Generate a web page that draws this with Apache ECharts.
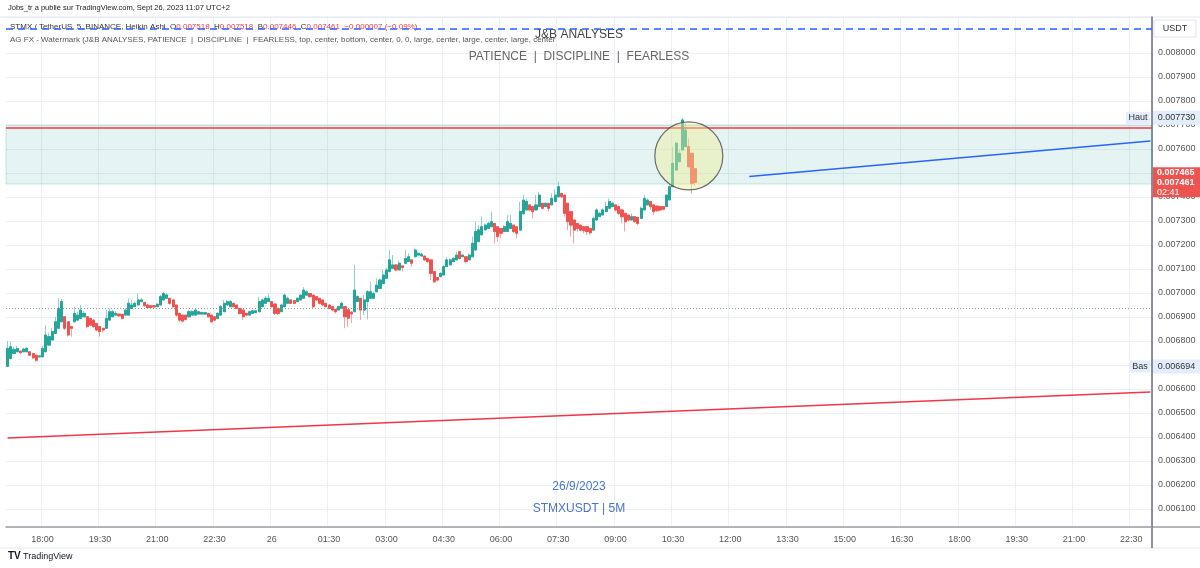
<!DOCTYPE html>
<html>
<head>
<meta charset="utf-8">
<title>STMXUSDT 5M - Heikin Ashi</title>
<script src="https://cdn.jsdelivr.net/npm/echarts@6/dist/echarts.min.js"></script>
<style>
  html, body { margin: 0; padding: 0; background: #fff; }
  #chart { width: 1200px; height: 568px; }
</style>
</head>
<body>
<div id="chart"></div>
<script>
// Heikin Ashi candles, 5 min, first candle 25/9 17:05, last 26/9 11:05
var haOpen = [
  0.006694,0.006727,0.006748,0.006755,0.006758,0.006755,0.006755,0.006755,0.006748,0.006741,
  0.006734,0.006734,0.006755,0.006783,0.006804,0.006832,0.006853,0.006880,0.006901,0.006880,
  0.006860,0.006880,0.006887,0.006894,0.006901,0.006901,0.006894,0.006887,0.006873,0.006860,
  0.006853,0.006853,0.006887,0.006901,0.006908,0.006912,0.006911,0.006908,0.006908,0.006936,
  0.006943,0.006950,0.006964,0.006961,0.006950,0.006947,0.006947,0.006943,0.006950,0.006971,
  0.006978,0.006978,0.006971,0.006950,0.006915,0.006908,0.006908,0.006901,0.006908,0.006908,
  0.006912,0.006912,0.006912,0.006915,0.006908,0.006901,0.006894,0.006908,0.006922,0.006950,
  0.006943,0.006957,0.006950,0.006936,0.006929,0.006915,0.006908,0.006915,0.006918,0.006922,
  0.006943,0.006957,0.006964,0.006964,0.006954,0.006936,0.006922,0.006943,0.006957,0.006971,
  0.006968,0.006964,0.006971,0.006978,0.006991,0.006998,0.006991,0.006985,0.006978,0.006971,
  0.006957,0.006950,0.006943,0.006932,0.006929,0.006936,0.006943,0.006930,0.006920,0.006922,
  0.006964,0.006978,0.006929,0.006964,0.006978,0.006978,0.007005,0.007019,0.007040,0.007061,
  0.007089,0.007103,0.007117,0.007096,0.007113,0.007124,0.007131,0.007138,0.007151,0.007158,
  0.007154,0.007154,0.007144,0.007138,0.007089,0.007065,0.007068,0.007075,0.007110,0.007117,
  0.007131,0.007138,0.007172,0.007151,0.007151,0.007138,0.007151,0.007179,0.007214,0.007242,
  0.007263,0.007269,0.007276,0.007290,0.007276,0.007269,0.007256,0.007256,0.007269,0.007283,
  0.007276,0.007262,0.007330,0.007346,0.007367,0.007360,0.007346,0.007360,0.007374,0.007360,
  0.007374,0.007367,0.007381,0.007401,0.007415,0.007408,0.007374,0.007339,0.007304,0.007290,
  0.007283,0.007276,0.007276,0.007269,0.007262,0.007304,0.007318,0.007325,0.007339,0.007353,
  0.007360,0.007367,0.007360,0.007346,0.007332,0.007325,0.007304,0.007318,0.007315,0.007311,
  0.007346,0.007367,0.007381,0.007367,0.007362,0.007360,0.007360,0.007360,0.007388,0.007443,
  0.007512,0.007547,0.007596,0.007610,0.007610,0.007582,0.007518
];
var haClose = [
  0.006769,0.006776,0.006765,0.006769,0.006751,0.006766,0.006769,0.006741,0.006730,0.006720,
  0.006738,0.006769,0.006825,0.006818,0.006839,0.006880,0.006936,0.006964,0.006853,0.006825,
  0.006853,0.006915,0.006908,0.006929,0.006915,0.006860,0.006866,0.006860,0.006846,0.006839,
  0.006846,0.006894,0.006922,0.006922,0.006915,0.006905,0.006894,0.006929,0.006957,0.006950,
  0.006957,0.006971,0.006971,0.006947,0.006939,0.006939,0.006942,0.006953,0.006985,0.006998,
  0.006992,0.006957,0.006943,0.006908,0.006887,0.006883,0.006890,0.006922,0.006922,0.006929,
  0.006922,0.006919,0.006918,0.006901,0.006880,0.006887,0.006915,0.006943,0.006957,0.006964,
  0.006964,0.006943,0.006936,0.006915,0.006901,0.006908,0.006922,0.006926,0.006926,0.006964,
  0.006971,0.006978,0.006978,0.006943,0.006915,0.006915,0.006950,0.006991,0.006978,0.006957,
  0.006957,0.006978,0.006991,0.007012,0.007005,0.006985,0.006943,0.006971,0.006957,0.006950,
  0.006943,0.006936,0.006929,0.006922,0.006943,0.006957,0.006901,0.006895,0.006913,0.007012,
  0.006985,0.006929,0.006971,0.007005,0.007005,0.006998,0.007033,0.007054,0.007075,0.007096,
  0.007138,0.007117,0.007096,0.007124,0.007106,0.007144,0.007151,0.007124,0.007179,0.007165,
  0.007162,0.007138,0.007131,0.007082,0.007047,0.007054,0.007082,0.007110,0.007138,0.007138,
  0.007144,0.007158,0.007144,0.007158,0.007131,0.007158,0.007207,0.007256,0.007263,0.007276,
  0.007283,0.007290,0.007297,0.007256,0.007235,0.007249,0.007276,0.007297,0.007290,0.007256,
  0.007249,0.007340,0.007387,0.007381,0.007346,0.007339,0.007367,0.007408,0.007353,0.007374,
  0.007353,0.007394,0.007408,0.007443,0.007401,0.007332,0.007297,0.007283,0.007262,0.007269,
  0.007262,0.007260,0.007256,0.007251,0.007311,0.007346,0.007332,0.007346,0.007360,0.007381,
  0.007374,0.007346,0.007332,0.007318,0.007297,0.007304,0.007318,0.007297,0.007290,0.007353,
  0.007394,0.007387,0.007360,0.007339,0.007343,0.007346,0.007349,0.007408,0.007443,0.007540,
  0.007624,0.007582,0.007721,0.007679,0.007526,0.007457,0.007461
];
var haLow = [
  0.006694,0.006724,0.006748,0.006755,0.006747,0.006755,0.006755,0.006738,0.006725,0.006712,
  0.006730,0.006734,0.006755,0.006783,0.006804,0.006832,0.006853,0.006880,0.006846,0.006818,
  0.006818,0.006880,0.006887,0.006894,0.006901,0.006853,0.006862,0.006855,0.006840,0.006818,
  0.006835,0.006853,0.006887,0.006901,0.006908,0.006900,0.006890,0.006908,0.006908,0.006936,
  0.006943,0.006950,0.006964,0.006944,0.006936,0.006936,0.006938,0.006943,0.006950,0.006971,
  0.006978,0.006952,0.006938,0.006901,0.006880,0.006876,0.006885,0.006901,0.006908,0.006908,
  0.006912,0.006912,0.006912,0.006898,0.006876,0.006883,0.006894,0.006908,0.006922,0.006950,
  0.006943,0.006940,0.006932,0.006910,0.006887,0.006903,0.006908,0.006915,0.006918,0.006922,
  0.006943,0.006957,0.006964,0.006940,0.006908,0.006908,0.006922,0.006943,0.006957,0.006954,
  0.006954,0.006964,0.006971,0.006978,0.006991,0.006980,0.006936,0.006966,0.006952,0.006945,
  0.006938,0.006932,0.006924,0.006915,0.006929,0.006936,0.006853,0.006858,0.006874,0.006922,
  0.006964,0.006888,0.006908,0.006890,0.006978,0.006978,0.007005,0.007019,0.007040,0.007061,
  0.007089,0.007103,0.007090,0.007096,0.007090,0.007124,0.007131,0.007110,0.007151,0.007158,
  0.007154,0.007134,0.007126,0.007054,0.007040,0.007047,0.007068,0.007075,0.007110,0.007117,
  0.007131,0.007138,0.007140,0.007151,0.007124,0.007138,0.007151,0.007179,0.007214,0.007242,
  0.007263,0.007269,0.007276,0.007207,0.007214,0.007228,0.007256,0.007256,0.007269,0.007250,
  0.007228,0.007262,0.007330,0.007346,0.007340,0.007311,0.007346,0.007360,0.007348,0.007360,
  0.007339,0.007367,0.007381,0.007401,0.007396,0.007318,0.007262,0.007235,0.007207,0.007256,
  0.007256,0.007248,0.007242,0.007242,0.007262,0.007304,0.007318,0.007325,0.007339,0.007353,
  0.007360,0.007340,0.007325,0.007290,0.007256,0.007298,0.007304,0.007292,0.007283,0.007311,
  0.007346,0.007367,0.007346,0.007325,0.007338,0.007340,0.007344,0.007360,0.007388,0.007443,
  0.007512,0.007547,0.007596,0.007610,0.007520,0.007415,0.007446
];
var haHigh = [
  0.006800,0.006797,0.006776,0.006780,0.006758,0.006772,0.006776,0.006755,0.006748,0.006741,
  0.006742,0.006780,0.006866,0.006835,0.006853,0.006901,0.006978,0.006975,0.006901,0.006880,
  0.006862,0.006943,0.006922,0.006950,0.006925,0.006901,0.006894,0.006887,0.006873,0.006860,
  0.006853,0.006929,0.006936,0.006930,0.006925,0.006914,0.006911,0.006936,0.006978,0.006971,
  0.006964,0.006998,0.006980,0.006961,0.006950,0.006947,0.006947,0.006958,0.006992,0.007005,
  0.007000,0.006978,0.006971,0.006950,0.006915,0.006908,0.006908,0.006929,0.006929,0.006936,
  0.006926,0.006922,0.006920,0.006915,0.006908,0.006901,0.006920,0.006950,0.006971,0.006971,
  0.006970,0.006957,0.006950,0.006936,0.006929,0.006915,0.006926,0.006930,0.006929,0.006985,
  0.006978,0.006987,0.006998,0.006964,0.006954,0.006936,0.006957,0.006998,0.006985,0.006971,
  0.006968,0.006982,0.006995,0.007024,0.007012,0.006998,0.006991,0.006985,0.006978,0.006971,
  0.006957,0.006950,0.006943,0.006932,0.006946,0.006964,0.006943,0.006930,0.006925,0.007117,
  0.006990,0.006978,0.006992,0.007012,0.007047,0.007005,0.007061,0.007061,0.007096,0.007105,
  0.007179,0.007158,0.007117,0.007135,0.007113,0.007179,0.007165,0.007138,0.007186,0.007172,
  0.007168,0.007154,0.007144,0.007138,0.007089,0.007065,0.007086,0.007115,0.007151,0.007144,
  0.007151,0.007172,0.007172,0.007162,0.007151,0.007165,0.007235,0.007297,0.007283,0.007318,
  0.007290,0.007297,0.007339,0.007290,0.007276,0.007269,0.007283,0.007325,0.007325,0.007283,
  0.007276,0.007380,0.007408,0.007394,0.007367,0.007360,0.007408,0.007422,0.007374,0.007378,
  0.007374,0.007415,0.007432,0.007464,0.007415,0.007408,0.007374,0.007339,0.007304,0.007290,
  0.007283,0.007276,0.007276,0.007269,0.007318,0.007353,0.007339,0.007353,0.007381,0.007394,
  0.007381,0.007367,0.007360,0.007346,0.007332,0.007325,0.007332,0.007318,0.007315,0.007360,
  0.007408,0.007394,0.007381,0.007367,0.007362,0.007360,0.007360,0.007408,0.007450,0.007610,
  0.007630,0.007600,0.007730,0.007707,0.007645,0.007582,0.007518
];

// drawings: [slot index, price]
var blueTrend = [[233, 0.007485], [359, 0.007633]];
var redTrend = [[0, 0.006396], [359, 0.006588]];
var highlight = [[214, 0.007571]];
var resistance = 0.00769;
var zoneTop = 0.0077;
var zoneBottom = 0.007454;
var prevClose = 0.006938;
var dashedLevel = 0.0081;
var dayHigh = 0.00773;
var dayLow = 0.006694;
var lastPrice = 0.007461;

// time slots of 5 minutes, 25/9 17:05 -> 26/9 23:00
var startMinute = 17 * 60 + 5;
var slotCount = 360;

function pad(n) { return (n < 10 ? '0' : '') + n; }

var slots = [];
for (var k = 0; k < slotCount; k++) {
  var m = startMinute + k * 5;
  var mm = m % 1440;
  slots.push((m >= 1440 ? '26' : '25') + ' ' + pad(Math.floor(mm / 60)) + ':' + pad(mm % 60));
}

function onTick(index) {
  var mm = (startMinute + index * 5) % 1440;
  return mm % 90 === 0;
}

var candles = haOpen.map(function (o, i) {
  return [o, haClose[i], haLow[i], haHigh[i]];
});
var bodies = haOpen.map(function (o, i) {
  var c = haClose[i];
  return [o, c, Math.min(o, c), Math.max(o, c)];
});

var font = 'Liberation Sans, Arial, sans-serif';
var chart = echarts.init(document.getElementById('chart'));

chart.setOption({
  backgroundColor: '#ffffff',
  animation: false,
  textStyle: { fontFamily: font },
  grid: { left: 6, right: 48, top: 17, bottom: 41, outerBoundsMode: 'none' },
  xAxis: {
    type: 'category',
    data: slots,
    boundaryGap: true,
    axisLine: { lineStyle: { color: '#9a9ca3', width: 1.5 } },
    axisTick: { show: false },
    axisLabel: {
      color: '#555',
      fontSize: 9,
      margin: 8,
      interval: onTick,
      formatter: function (v) {
        var t = v.split(' ')[1];
        return t === '00:00' ? '26' : t;
      }
    },
    splitLine: { show: true, interval: onTick, lineStyle: { color: '#eaf0f5', width: 1 } }
  },
  yAxis: {
    type: 'value',
    position: 'right',
    scale: true,
    min: 0.006025,
    max: 0.00815,
    splitNumber: 21,
    axisLine: { show: true, lineStyle: { color: '#6a6d78', width: 1.5 } },
    axisTick: { show: false },
    axisLabel: {
      color: '#555',
      fontSize: 9,
      margin: 6,
      showMinLabel: false,
      showMaxLabel: false,
      formatter: function (v) { return v.toFixed(6); }
    },
    splitLine: { lineStyle: { color: '#eaf0f5', width: 1 } }
  },
  series: [
    {
      name: 'wicks',
      type: 'candlestick',
      data: candles,
      barWidth: 2.6,
      z: 3,
      itemStyle: {
        color: '#8fd1c9', color0: '#f6a4a3',
        borderColor: '#8fd1c9', borderColor0: '#f6a4a3', borderWidth: 1
      },
      markArea: {
        silent: true,
        itemStyle: { color: 'rgba(38,166,154,0.12)', borderColor: 'rgba(38,166,154,0.25)', borderWidth: 1 },
        data: [[{ yAxis: zoneBottom }, { yAxis: zoneTop }]]
      }
    },
    {
      name: 'bodies',
      type: 'candlestick',
      data: bodies,
      barWidth: 2.6,
      z: 4,
      itemStyle: {
        color: '#26a69a', color0: '#ef5350',
        borderColor: '#26a69a', borderColor0: '#ef5350', borderWidth: 1
      }
    },
    {
      name: 'blue trend',
      type: 'line',
      data: blueTrend,
      symbol: 'none',
      z: 5,
      lineStyle: { color: '#2962ff', width: 1.5 },
      markLine: {
        silent: true,
        symbol: 'none',
        precision: 6,
        label: { show: false },
        data: [
          { yAxis: resistance, lineStyle: { color: '#f23645', width: 1.5, type: 'solid' } },
          { yAxis: prevClose, lineStyle: { color: '#9598a1', width: 1, type: [1, 2] } },
          { yAxis: dashedLevel, lineStyle: { color: '#2962ff', width: 1.5, type: [7, 5] } }
        ]
      }
    },
    {
      name: 'red trend',
      type: 'line',
      data: redTrend,
      symbol: 'none',
      z: 5,
      lineStyle: { color: '#f23645', width: 1.5 }
    },
    {
      name: 'highlight',
      type: 'scatter',
      data: highlight,
      symbol: 'circle',
      symbolSize: 68,
      z: 6,
      silent: true,
      itemStyle: { color: 'rgba(236,236,150,0.55)', borderColor: '#4a4a4a', borderWidth: 1.2 }
    }
  ]
});

// labels on the price scale, placed at their prices
function yAt(v) { return chart.convertToPixel({ yAxisIndex: 0 }, v); }
var yHigh = yAt(dayHigh), yLow = yAt(dayLow), yLast = yAt(lastPrice);

function tag(x, y, w, h, bg, text, color, extra) {
  return {
    type: 'group',
    z: 100,
    children: [
      { type: 'rect', z: 100, shape: { x: x, y: y, width: w, height: h }, style: Object.assign({ fill: bg }, extra || {}) },
      { type: 'text', z: 101, x: x + w / 2, y: y + h / 2, style: { text: text, fill: color, font: '9px ' + font, textAlign: 'center', textVerticalAlign: 'middle' } }
    ]
  };
}

chart.setOption({
  graphic: [
    { type: 'line', shape: { x1: 0, y1: 17, x2: 1200, y2: 17 }, style: { stroke: '#e6e8ec', lineWidth: 1 } },
    { type: 'line', shape: { x1: 0, y1: 548, x2: 1200, y2: 548 }, style: { stroke: '#e6e8ec', lineWidth: 1 } },
    { type: 'line', shape: { x1: 1152, y1: 527, x2: 1200, y2: 527 }, style: { stroke: '#9a9ca3', lineWidth: 1.5 } },
    { type: 'line', shape: { x1: 1152, y1: 527, x2: 1152, y2: 548 }, style: { stroke: '#6a6d78', lineWidth: 1.5 } },
    { type: 'text', x: 8, y: 4, style: { text: 'Jobs_tr a publié sur TradingView.com, Sept 26, 2023 11:07 UTC+2', fill: '#222', font: '7.5px ' + font } },
    {
      type: 'text', x: 10, y: 23,
      style: {
        text: '{n|STMX / TetherUS, 5, BINANCE, Heikin Ashi  O}{r|0.007518}{n|  H}{r|0.007518}{n|  B}{r|0.007446}{n|  C}{r|0.007461  −0.000007 (−0.09%)}',
        font: '8px ' + font,
        rich: { n: { fill: '#333', font: '8px ' + font }, r: { fill: '#f23645', font: '8px ' + font } }
      }
    },
    { type: 'text', x: 10, y: 36, style: { text: 'AG FX - Watermark (J&B ANALYSES, PATIENCE  |  DISCIPLINE  |  FEARLESS, top, center, bottom, center, 0, 0, large, center, large, center, large, center', fill: '#555', font: '8px ' + font } },
    { type: 'text', x: 579, y: 35, style: { text: 'J&B ANALYSES', fill: '#444', font: '12px ' + font, textAlign: 'center', textVerticalAlign: 'middle' } },
    { type: 'text', x: 579, y: 57, style: { text: 'PATIENCE  |  DISCIPLINE  |  FEARLESS', fill: '#666', font: '12px ' + font, textAlign: 'center', textVerticalAlign: 'middle' } },
    { type: 'text', x: 579, y: 487, style: { text: '26/9/2023', fill: '#4a72d0', font: '12px ' + font, textAlign: 'center', textVerticalAlign: 'middle' } },
    { type: 'text', x: 579, y: 509, style: { text: 'STMXUSDT | 5M', fill: '#4a72d0', font: '12px ' + font, textAlign: 'center', textVerticalAlign: 'middle' } },
    { type: 'text', x: 8, y: 551, style: { text: 'TV', fill: '#131722', font: 'bold 10px ' + font } },
    { type: 'text', x: 23, y: 552, style: { text: 'TradingView', fill: '#131722', font: '9px ' + font } },
    tag(1154, 20, 42, 17, '#ffffff', 'USDT', '#333', { stroke: '#e0e3eb', lineWidth: 1 }),
    tag(1126, yHigh - 6, 24, 12, '#e3edfb', 'Haut', '#333'),
    tag(1153, yHigh - 7, 47, 14, '#e3edfb', '0.007730', '#333'),
    tag(1130, yLow - 6, 20, 12, '#e3edfb', 'Bas', '#333'),
    tag(1153, yLow - 7, 47, 14, '#e3edfb', '0.006694', '#333'),
    {
      type: 'group',
      z: 100,
      children: [
        { type: 'rect', z: 100, shape: { x: 1153, y: yLast - 15, width: 47, height: 30 }, style: { fill: '#ef5350' } },
        { type: 'text', z: 101, x: 1157, y: yLast - 10, style: { text: '0.007465', fill: '#fff', font: 'bold 9px ' + font, textVerticalAlign: 'middle' } },
        { type: 'text', z: 101, x: 1157, y: yLast, style: { text: '0.007461', fill: '#fff', font: 'bold 9px ' + font, textVerticalAlign: 'middle' } },
        { type: 'text', z: 101, x: 1157, y: yLast + 10, style: { text: '02:41', fill: '#fff', font: '9px ' + font, textVerticalAlign: 'middle' } }
      ]
    }
  ]
});
</script>
</body>
</html>
